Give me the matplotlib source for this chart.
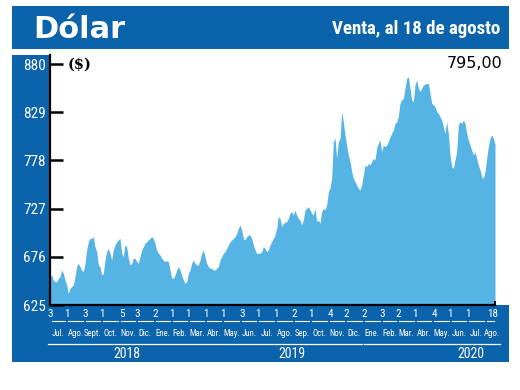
import matplotlib
matplotlib.use('Agg')
import matplotlib.pyplot as plt
import matplotlib.dates as mdates
import matplotlib.transforms as mtransforms
from matplotlib.patches import Rectangle
from matplotlib import font_manager
import pandas as pd

# ---------------- data ----------------
start_date = '2018-07-03'
end_date = '2020-08-18'
values = [
    655.0, 656.7, 651.5, 649.7, 649.7, 653.2, 655.0, 662.0, 658.5, 651.5,
    646.2, 637.3, 642.6, 644.4, 646.2, 655.0, 665.6, 669.1, 665.6, 662.0,
    660.3, 669.1, 683.2, 692.0, 695.5, 695.5, 697.3, 686.7, 681.4, 667.3,
    665.6, 656.7, 658.5, 672.6, 681.4, 685.0, 679.7, 672.6, 683.2, 688.5,
    692.0, 693.8, 695.5, 679.7, 676.1, 688.5, 686.7, 674.4, 667.3, 669.1,
    674.4, 674.4, 670.9, 669.1, 676.1, 683.2, 686.7, 690.2, 692.0, 693.8,
    695.5, 697.3, 695.5, 690.2, 683.2, 679.7, 677.9, 674.4, 672.6, 670.9,
    671.9, 670.9, 662.0, 653.2, 653.2, 656.7, 662.0, 665.6, 662.0, 656.7,
    651.5, 647.9, 649.7, 658.5, 662.0, 669.1, 672.6, 669.1, 667.3, 667.3,
    672.6, 679.7, 683.2, 676.1, 669.1, 665.6, 663.8, 663.8, 662.0, 662.0,
    663.8, 665.6, 672.6, 676.1, 679.7, 681.4, 685.0, 688.5, 692.0, 693.8,
    695.5, 697.3, 700.8, 706.1, 709.6, 704.4, 695.5, 693.8, 697.3, 699.1,
    699.1, 695.5, 688.5, 683.2, 679.7, 679.7, 679.7, 681.4, 686.7, 685.0,
    681.4, 683.2, 688.5, 692.0, 695.5, 699.1, 706.1, 718.5, 716.7,
    707.9, 711.4, 712.5, 713.2, 716.7, 722.0, 723.8, 720.2, 725.5, 720.2,
    716.7, 714.9, 709.6, 714.9, 725.5, 727.3, 729.0, 725.5, 722.0, 720.2,
    727.3, 713.2, 714.9, 711.4, 723.8, 727.3, 725.5, 730.8, 744.9, 748.4,
    759.0, 797.8, 801.4, 780.2, 797.8, 801.4, 829.6, 819.0, 804.9, 794.3,
    783.7, 776.7, 766.1, 759.0, 755.5, 752.0, 748.4, 746.7, 752.0, 762.6,
    773.1, 771.4, 774.9, 773.1, 776.7, 780.2, 778.4, 790.8, 796.1, 799.6,
    787.2, 794.3, 792.5, 794.3, 797.8, 803.1, 806.6, 810.2, 817.2, 819.0,
    824.3, 838.4, 841.9, 843.7, 854.3, 864.8, 866.6, 854.3, 841.9, 840.1,
    857.8, 863.1, 854.3, 850.8, 854.3, 857.8, 858.5, 859.5, 859.5, 849.0,
    838.4, 836.6, 834.9, 829.6, 827.8, 824.3, 820.7, 813.7, 806.6, 819.0,
    806.6, 783.7, 771.4, 769.6, 778.4, 787.2, 815.5, 819.0, 817.2, 820.7,
    817.2, 806.6, 799.6, 794.3, 789.0, 783.7, 787.2, 780.2, 773.1, 767.8,
    760.8, 759.0, 766.1, 780.2, 792.5, 801.4, 804.9, 801.4, 795.0,
]
yticks = [625, 676, 727, 778, 829, 880]
months = ['Jul.', 'Ago.', 'Sept.', 'Oct.', 'Nov.', 'Dic.',
          'Ene.', 'Feb.', 'Mar.', 'Abr.', 'May.', 'Jun.', 'Jul.', 'Ago.',
          'Sep.', 'Oct.', 'Nov.', 'Dic.',
          'Ene.', 'Feb.', 'Mar.', 'Abr.', 'May.', 'Jun.', 'Jul.', 'Ago.']
first_days = ['3', '1', '3', '1', '5', '3',
              '2', '1', '1', '1', '1', '3', '1', '1', '2', '1', '4', '2',
              '2', '3', '2', '1', '4', '1', '1', '']
end_day_label = '18'
years = ['2018', '2019', '2020']
year_label_dates = ['2018-11-14', '2019-08-29', '2020-07-07']
title = 'Dólar'
subtitle = 'Venta, al 18 de agosto'
unit = '($)'
last_label = '795,00'

# ---------------- fonts ----------------
names = {f.name for f in font_manager.fontManager.ttflist}
narrow = [n for n in ['Liberation Sans Narrow', 'Roboto Condensed', 'Open Sans Condensed']
          if n in names]
NARROW = narrow[:1] + ['DejaVu Sans']
nscale = 1.0 if narrow else 0.8

# ---------------- layout ----------------
W, H = 520, 390
BLUE = '#0B63AB'
FILL = '#56B4E4'


def fx(px):
    return px / W


def fy(py):
    return 1 - py / H


fig = plt.figure(figsize=(W / 100, H / 100), dpi=100)
for (x0, y0, x1, y1) in [(12, 6, 509, 49), (12, 55, 50, 305), (12, 305, 509, 362)]:
    fig.patches.append(Rectangle((fx(x0), fy(y1)), (x1 - x0) / W, (y1 - y0) / H,
                                 transform=fig.transFigure, facecolor=BLUE,
                                 edgecolor='none', zorder=-5))

fig.text(fx(33), fy(38), title, color='white', fontsize=22, fontweight='bold',
         family=['DejaVu Sans'], va='baseline', ha='left')
fig.text(fx(500), fy(34), subtitle, color='white', fontsize=13.6 * nscale,
         fontweight='bold', family=NARROW, va='baseline', ha='right')

ax = fig.add_axes([fx(50), fy(305), 459 / W, 250 / H])
dates = pd.date_range(start_date, end_date, periods=len(values))
x = mdates.date2num(dates.to_pydatetime())
x0 = x[0]
x_end = x[-1]
px_per_day = 445 / (x_end - x0)
ax.set_xlim(x0, x0 + 459 / px_per_day)
ax.set_ylim(625, 625 + 250 * 255 / 241)

ax.fill_between(x, values, 625, color=FILL, lw=0, zorder=1)

for s in ['top', 'right']:
    ax.spines[s].set_visible(False)
ax.spines['left'].set_linewidth(1.6)
ax.spines['bottom'].set_linewidth(1.6)
ax.spines['bottom'].set_bounds(x0, x_end)
ax.plot([x_end, x_end], [625, 628], color='black', lw=1.4, clip_on=False, zorder=3)

ax.set_xticks([])
ax.set_yticks(yticks)
ax.set_yticklabels([str(v) for v in yticks])
ax.tick_params(axis='y', direction='in', length=9, width=1.8, color='black',
               labelcolor='white', labelsize=11 * nscale, pad=3)
for lab in ax.get_yticklabels():
    lab.set_family(NARROW)

ax.text(18 / 459, 1 - (65 - 55) / 250, unit,
        transform=ax.transAxes, fontsize=10.5, fontweight='bold',
        family=['DejaVu Serif'], va='center', ha='left', color='black')
ax.text(1 - 7 / 459, 1 - (64 - 55) / 250, last_label, transform=ax.transAxes,
        fontsize=11.5, family=['DejaVu Sans'], va='center', ha='right', color='black')

# ---------------- bottom band ----------------
trans = mtransforms.blended_transform_factory(ax.transData, ax.transAxes)
mstarts = pd.date_range('2018-07-01', periods=len(months) + 1, freq='MS')
bounds = [x0] + list(mdates.date2num(mstarts[1:-1].to_pydatetime())) + [x_end]
gap = 1.5 / px_per_day

y_num = -(314 - 305) / 250
y_seg = -(321 - 305) / 250
y_mon = -(333 - 305) / 250
y_yline = -(344 - 305) / 250
y_year = -(354 - 305) / 250

for i, m in enumerate(months):
    a, b = bounds[i], bounds[i + 1]
    ax.plot([a + gap, b - gap], [y_seg, y_seg], transform=trans, color='white',
            lw=0.8, clip_on=False)
    cx = (a + b) / 2
    if i == len(months) - 1:
        cx = b - 3 / px_per_day
    ax.text(cx, y_mon, m, transform=trans, color='white',
            fontsize=6.3 * nscale, family=NARROW, ha='center', va='center')
    if first_days[i]:
        d = mstarts[i] + pd.Timedelta(days=int(first_days[i]) - 1)
        ax.text(mdates.date2num(d.to_pydatetime()), y_num, first_days[i],
                transform=trans, color='white', fontsize=8 * nscale,
                family=NARROW, ha='center', va='center')
ax.text(x_end - 2 / px_per_day, y_num, end_day_label, transform=trans,
        color='white', fontsize=8 * nscale, family=NARROW, ha='center', va='center')

year_edges = [(x0 - 2 / px_per_day, mdates.date2num(pd.Timestamp('2018-12-31').to_pydatetime())),
              (mdates.date2num(pd.Timestamp('2019-01-02').to_pydatetime()),
               mdates.date2num(pd.Timestamp('2019-12-30').to_pydatetime())),
              (mdates.date2num(pd.Timestamp('2020-01-02').to_pydatetime()),
               x_end + 5 / px_per_day)]
for yr, (a, b), ld in zip(years, year_edges, year_label_dates):
    ax.plot([a, b], [y_yline, y_yline], transform=trans, color='white', lw=0.9,
            clip_on=False)
    ax.text(mdates.date2num(pd.Timestamp(ld).to_pydatetime()), y_year, yr,
            transform=trans, color='white', fontsize=10 * nscale, family=NARROW,
            ha='center', va='center')

fig.savefig('out.png', dpi=100)
